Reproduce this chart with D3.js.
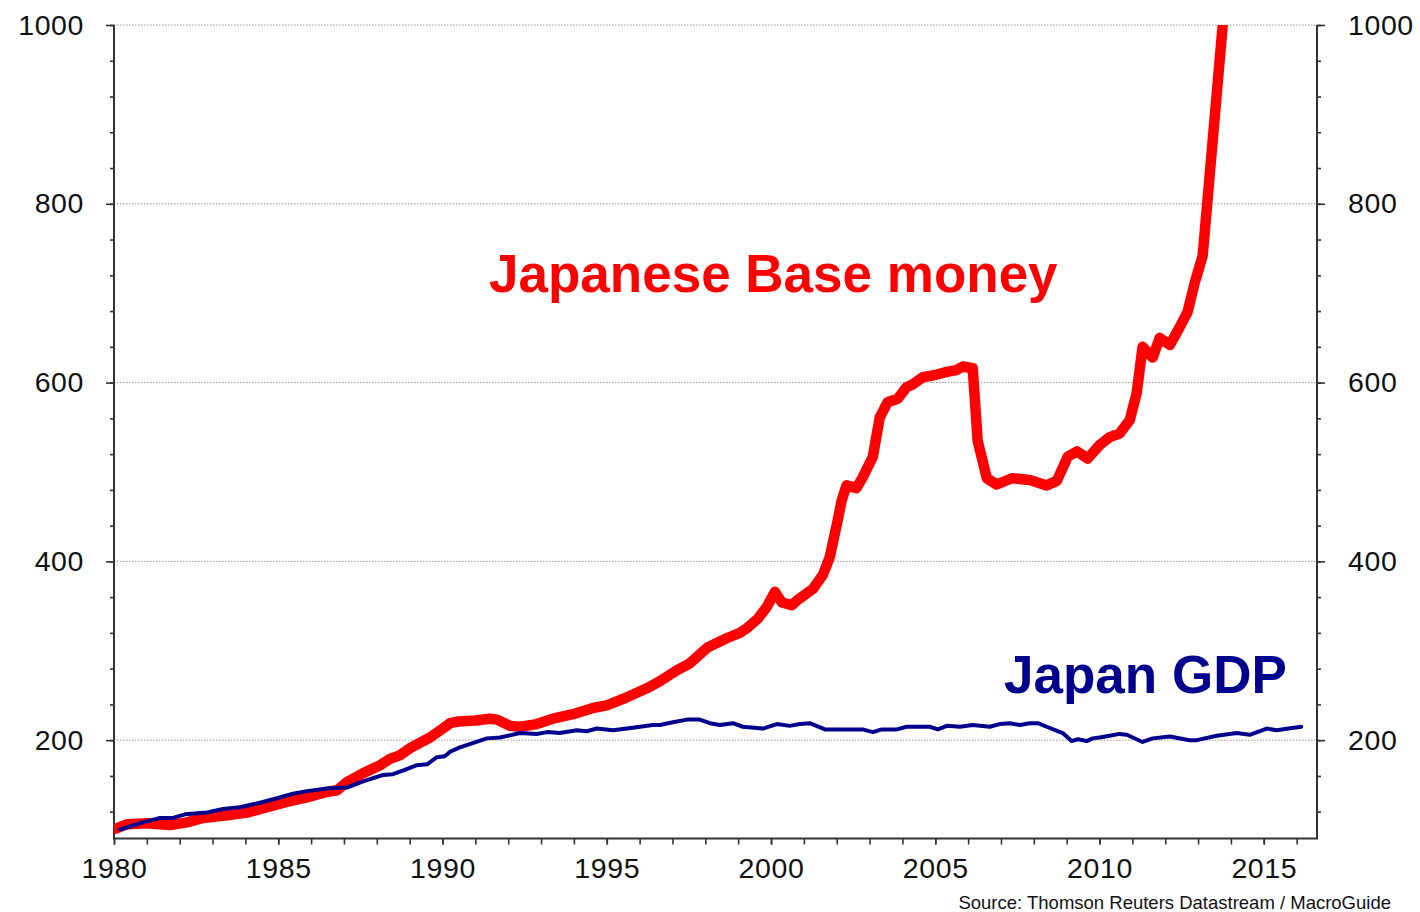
<!DOCTYPE html>
<html>
<head>
<meta charset="utf-8">
<script src="https://cdn.jsdelivr.net/npm/d3@7"></script>
<style>
  body { margin: 0; background: #fff; }
  svg { display: block; font-family: "Liberation Sans", Arial, sans-serif; }
</style>
</head>
<body>
<div id="chart"></div>
<script>
// Japanese base money (index, 1980 = 100)
const baseDates = [
  1980.05, 1980.40, 1981.00, 1981.70, 1982.22, 1982.71, 1983.44, 1984.05, 1984.66, 1985.26,
  1985.87, 1986.48, 1986.79, 1987.09, 1987.58, 1988.10, 1988.40, 1988.70, 1989.01, 1989.31,
  1989.62, 1990.01, 1990.23, 1990.50, 1991.00, 1991.44, 1991.66, 1992.05, 1992.36, 1992.87,
  1993.36, 1993.97, 1994.58, 1995.00, 1995.61, 1996.22, 1996.62, 1997.13, 1997.53, 1998.08,
  1998.65, 1999.05, 1999.26, 1999.60, 1999.87, 2000.12, 2000.33, 2000.63, 2000.82, 2001.27,
  2001.58, 2001.79, 2002.03, 2002.15, 2002.30, 2002.60, 2002.79, 2003.10, 2003.31, 2003.55,
  2003.86, 2004.13, 2004.32, 2004.62, 2005.05, 2005.35, 2005.65, 2005.84, 2006.14, 2006.29,
  2006.57, 2006.87, 2007.33, 2007.88, 2008.39, 2008.70, 2009.03, 2009.31, 2009.64, 2010.00,
  2010.31, 2010.61, 2010.92, 2011.13, 2011.31, 2011.62, 2011.83, 2012.14, 2012.44, 2012.68,
  2012.90, 2013.14, 2013.75, 2014.00
];
const baseValues = [
  101, 106, 107, 105, 108, 113, 116, 119, 125, 131,
  136, 142, 144, 153, 163, 172, 179, 183, 191, 197,
  203, 213, 219, 221, 222, 224, 223, 216, 215, 218,
  224, 229, 236, 239, 248, 258, 266, 278, 286, 304,
  314, 320, 325, 336, 349, 366, 354, 351, 357, 369,
  385, 405, 446, 468, 485, 482, 494, 517, 561, 578,
  582, 595, 598, 606, 609, 612, 614, 618, 616, 535,
  493, 486, 493, 491, 485, 490, 517, 523, 515, 530,
  539, 543, 558, 588, 640, 628, 650, 642, 662, 679,
  712, 742, 1000, 1110
];

// Japan nominal GDP (index, 1980 = 100)
const gdpDates = [
  1980.18, 1980.88, 1981.40, 1981.80, 1982.16, 1982.83, 1983.32, 1983.83, 1984.44, 1984.96,
  1985.45, 1985.87, 1986.48, 1986.97, 1987.09, 1987.58, 1988.19, 1988.49, 1988.79, 1989.22,
  1989.53, 1989.83, 1990.07, 1990.23, 1990.53, 1991.35, 1991.75, 1992.36, 1992.87, 1993.18,
  1993.57, 1994.09, 1994.39, 1994.70, 1995.19, 1995.79, 1996.40, 1996.62, 1997.01, 1997.44,
  1997.83, 1998.14, 1998.44, 1998.84, 1999.14, 1999.75, 2000.18, 2000.57, 2000.88, 2001.18,
  2001.64, 2002.79, 2003.10, 2003.37, 2003.83, 2004.13, 2004.83, 2005.08, 2005.35, 2005.75,
  2006.14, 2006.66, 2006.96, 2007.27, 2007.57, 2007.88, 2008.12, 2008.39, 2008.88, 2009.15,
  2009.34, 2009.61, 2009.79, 2010.00, 2010.31, 2010.61, 2010.83, 2011.31, 2011.62, 2012.14,
  2012.74, 2012.96, 2013.57, 2014.18, 2014.57, 2015.09, 2015.39, 2015.75, 2016.14
];
const gdpValues = [
  100, 108, 113, 113, 117, 119, 123, 125, 130, 135,
  140, 143, 146, 147, 147, 154, 161, 162, 166, 172,
  173, 181, 182, 187, 192, 202, 203, 208, 207, 209,
  208, 211, 210, 213, 211, 214, 217, 217, 220, 223,
  223, 219, 217, 219, 215, 213, 218, 216, 218, 219,
  212, 212, 209, 212, 212, 215, 215, 212, 216, 215,
  217, 215, 218, 219, 217, 219, 219, 215, 208, 199,
  201, 199, 202, 203, 205, 207, 206, 198, 202, 204,
  200, 200, 205, 208, 206, 213, 211, 213, 215
];

const yearTicks = d3.range(1980, 2017);
const yearLabels = [1980, 1985, 1990, 1995, 2000, 2005, 2010, 2015];
const majorTicks = [200, 400, 600, 800, 1000];
const minorTicks = d3.range(120, 1001, 40);

const W = 1420, H = 912;
const plotL = 114, plotR = 1317, plotT = 25, plotB = 838.5;

const x = d3.scaleLinear().domain([1980, 2016.62]).range([plotL, plotR]);
const y = d3.scaleLinear().domain([90, 1000]).range([plotB, plotT]);

const svg = d3.select("#chart").append("svg")
  .attr("width", W).attr("height", H);

svg.append("rect").attr("width", W).attr("height", H).attr("fill", "#fff");

svg.append("defs").append("clipPath").attr("id", "plot")
  .append("rect")
  .attr("x", plotL).attr("y", plotT)
  .attr("width", plotR - plotL).attr("height", plotB - plotT);

// dotted gridlines
svg.append("g").selectAll("line")
  .data(majorTicks)
  .join("line")
  .attr("x1", plotL).attr("x2", plotR)
  .attr("y1", d => y(d)).attr("y2", d => y(d))
  .attr("stroke", "#999")
  .attr("stroke-width", 1)
  .attr("stroke-dasharray", "1.5,1.5");

// left & right axes
const axisColor = "#333";
const fmt = d3.format("d");
const yLeft = d3.axisLeft(y).tickValues(minorTicks).tickSize(4).tickFormat("");
const yLeftMajor = d3.axisLeft(y).tickValues(majorTicks).tickSize(8).tickPadding(22).tickFormat(fmt);
const yRight = d3.axisRight(y).tickValues(minorTicks).tickSize(4).tickFormat("");
const yRightMajor = d3.axisRight(y).tickValues(majorTicks).tickSize(8).tickPadding(23).tickFormat(fmt);
const xAxis = d3.axisBottom(x).tickValues(yearTicks).tickSize(6).tickFormat("");
const xAxisLabels = d3.axisBottom(x).tickValues(yearLabels).tickSize(6).tickPadding(13).tickFormat(fmt);

function styleAxis(g) {
  g.select(".domain").remove();
  g.selectAll("line").attr("stroke", axisColor).attr("stroke-width", 1.6);
  g.selectAll("text").attr("fill", "#111")
    .style("font-size", "28.5px").style("letter-spacing", "0.6px")
    .style("font-family", "\"Liberation Sans\", Arial, sans-serif");
}

svg.append("g").attr("transform", `translate(${plotL},0)`).call(yLeft).call(styleAxis);
svg.append("g").attr("transform", `translate(${plotL},0)`).call(yLeftMajor).call(styleAxis);
svg.append("g").attr("transform", `translate(${plotR},0)`).call(yRight).call(styleAxis);
svg.append("g").attr("transform", `translate(${plotR},0)`).call(yRightMajor).call(styleAxis);
svg.append("g").attr("transform", `translate(0,${plotB})`).call(xAxis).call(styleAxis);
svg.append("g").attr("transform", `translate(0,${plotB})`).call(xAxisLabels).call(styleAxis);

// axis lines (no top border)
svg.append("path")
  .attr("d", `M${plotL},${plotT}V${plotB}H${plotR}V${plotT}`)
  .attr("fill", "none")
  .attr("stroke", axisColor)
  .attr("stroke-width", 2);

const line = d3.line()
  .x(d => x(d[0]))
  .y(d => y(d[1]));

const plot = svg.append("g").attr("clip-path", "url(#plot)");

plot.append("path")
  .datum(d3.zip(baseDates, baseValues))
  .attr("d", line)
  .attr("fill", "none")
  .attr("stroke", "#ff0000")
  .attr("stroke-width", 10.5)
  .attr("stroke-linejoin", "round")
  .attr("stroke-linecap", "round");

plot.append("path")
  .datum(d3.zip(gdpDates, gdpValues))
  .attr("d", line)
  .attr("fill", "none")
  .attr("stroke", "#00008c")
  .attr("stroke-width", 4)
  .attr("stroke-linejoin", "round")
  .attr("stroke-linecap", "round");

// series labels
svg.append("text")
  .attr("x", 489).attr("y", 292)
  .attr("fill", "#ff0000")
  .style("font-size", "53px").style("font-weight", "bold")
  .text("Japanese Base money");

svg.append("text")
  .attr("x", 1004).attr("y", 693)
  .attr("fill", "#00008c")
  .style("font-size", "53px").style("font-weight", "bold")
  .text("Japan GDP");

svg.append("text")
  .attr("x", 1391).attr("y", 909)
  .attr("text-anchor", "end")
  .attr("fill", "#111")
  .style("font-size", "18.5px")
  .text("Source: Thomson Reuters Datastream / MacroGuide");
</script>
</body>
</html>
